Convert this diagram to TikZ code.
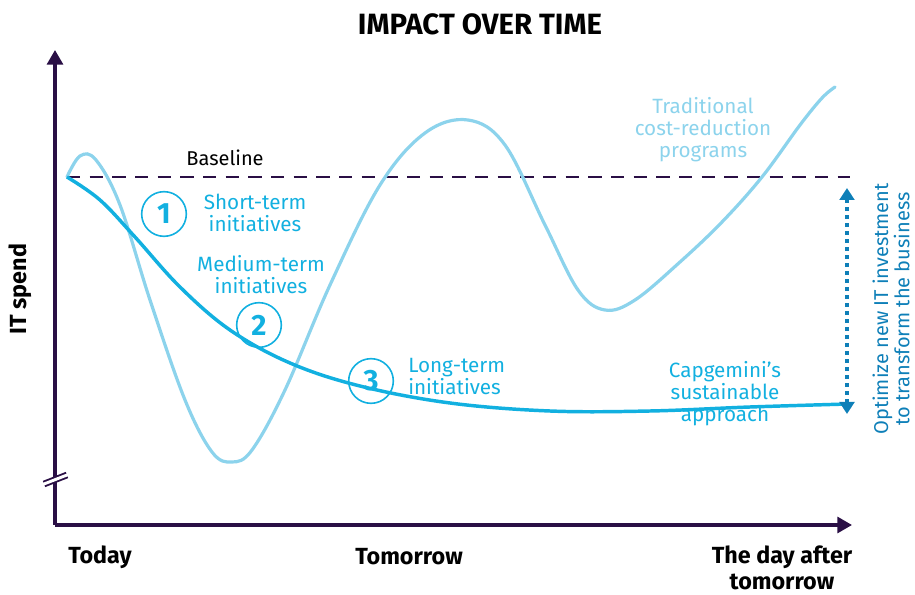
\documentclass[tikz,border=0pt]{standalone}
\usepackage{fontspec}
\setmainfont{Fira Sans}
\usetikzlibrary{arrows.meta}
\definecolor{axis}{HTML}{2A0F45}
\definecolor{capblue}{HTML}{12B0E0}
\definecolor{tradblue}{HTML}{8CD3EC}
\definecolor{optblue}{HTML}{0E7FB8}
\tikzset{
  lbl/.style={text=capblue, font=\fontsize{15.5}{16.5}\selectfont, align=center, inner sep=0pt},
  bold/.style={text=black, font=\bfseries\fontsize{17.5}{21}\selectfont, align=center, inner sep=0pt},
  num/.style={circle, draw=capblue, line width=1.2pt, minimum size=33.5pt, inner sep=0pt, text=capblue, font=\bfseries\fontsize{22}{24}\selectfont},
  axisline/.style={draw=axis, line width=2.3pt},
}
\begin{document}
\begin{tikzpicture}[x=0.75pt,y=-0.75pt]
\useasboundingbox (0,0) rectangle (915,595);
% title
\node[bold, font=\bfseries\fontsize{22}{25}\selectfont] (title) at (480,24) {IMPACT OVER TIME};
% axes
\coordinate (o) at (55,525);
\coordinate (ytop) at (55,50);
\coordinate (xend) at (852,525);
\draw[axisline, -{Triangle[length=11pt,width=12pt]}] (o) -- (ytop);
\draw[axisline, -{Triangle[length=11pt,width=12pt]}] (o) -- (xend);
% axis break
\coordinate (b1) at (44,484);
\coordinate (b2) at (67,475);
\draw[draw=axis, line width=5pt] (b1) -- (b2);
\draw[draw=white, line width=2.2pt, shorten <=-1pt, shorten >=-1pt] (b1) -- (b2);
% baseline
\coordinate (bl0) at (67,177);
\coordinate (bl1) at (850,177);
\draw[axis, line width=1.6pt, dash pattern=on 10pt off 7pt] (bl0) -- (bl1);
\node[text=black, font=\fontsize{15}{17}\selectfont, inner sep=0pt] (baseline) at (225,158) {Baseline};
% traditional curve
\draw[tradblue, line width=2.4pt, line cap=round]
  plot[smooth, tension=0.6] coordinates {(67,177) (80,156) (96,160) (120,205) (150,300) (185,400) (212,452) (232,462) (252,450) (285,390) (330,285) (380,185) (425,133) (468,120) (505,145) (545,225) (578,290) (605,310) (635,300) (680,262) (722,222) (762,177) (800,125) (822,98) (835,87)};
% capgemini curve
\draw[capblue, line width=2.6pt]
  plot[smooth, tension=0.6] coordinates {(67,177) (100,200) (135,237) (180,287) (230,330) (290,363) (360,386) (450,403) (550,411) (650,411) (750,407) (848,404)};
% numbers
\node[num] (n1) at (164,214) {1};
\node[num] (n2) at (259,325) {2};
\node[num] (n3) at (371,381) {3};
\node[lbl] (l1) at (255,213) {Short-term\\initiatives};
\node[lbl] (l2) at (261,275) {Medium-term\\initiatives};
\node[lbl, align=left, anchor=west] (l3) at (408,377) {Long-term\\initiatives};
\node[lbl] (l4) at (725,394) {Capgemini’s\\sustainable\\approach};
\node[lbl, text=tradblue] (l5) at (703,130) {Traditional\\cost-reduction\\programs};
% optimize arrow
\coordinate (a1) at (847,188);
\coordinate (a2) at (847,414);
\draw[optblue, line width=2.6pt, dash pattern=on 3pt off 3pt, {Triangle[length=9pt,width=11pt]}-{Triangle[length=9pt,width=11pt]}] (a1) -- (a2);
\node[text=optblue, font=\fontsize{15}{13.5}\selectfont, align=center, rotate=90, inner sep=0pt] (opt) at (891,309) {Optimize new IT investment\\to transform the business};
% axis labels
\node[bold, rotate=90] (itspend) at (20,289) {IT spend};
\node[bold] (today) at (100,557) {Today};
\node[bold] (tomorrow) at (409,557) {Tomorrow};
\node[bold, align=center, font=\bfseries\fontsize{17.5}{20}\selectfont] (dayafter) at (782,568) {The day after\\tomorrow};
\end{tikzpicture}
\end{document}
